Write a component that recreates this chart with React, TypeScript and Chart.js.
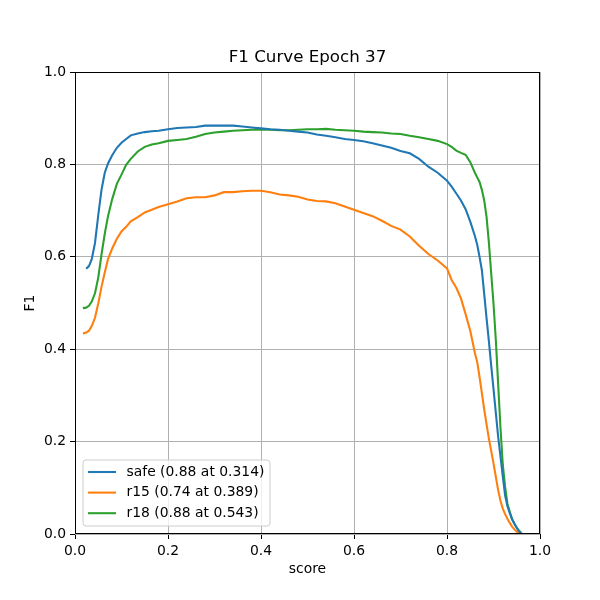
import React, { useEffect, useRef } from "react";
import { Chart, registerables } from "chart.js";

Chart.register(...registerables);

const scores = [
  0.017, 0.024, 0.03, 0.036, 0.043, 0.05, 0.057, 0.064, 0.071, 0.08, 0.09, 0.1, 0.11, 0.12, 0.135, 0.15,
  0.165, 0.18, 0.2, 0.22, 0.24, 0.26, 0.28, 0.3, 0.32, 0.34, 0.36, 0.38, 0.4, 0.42, 0.44, 0.46, 0.48, 0.5,
  0.52, 0.54, 0.56, 0.58, 0.6, 0.62, 0.64, 0.66, 0.68, 0.7, 0.72, 0.74, 0.76, 0.78, 0.8, 0.81, 0.82, 0.83,
  0.84, 0.85, 0.86, 0.865, 0.87, 0.875, 0.88, 0.885, 0.89, 0.895, 0.9, 0.905, 0.91, 0.915, 0.92, 0.925,
  0.93, 0.935, 0.94, 0.945, 0.95, 0.955, 0.96,
];

const safeF1 = [
  null, 0.574, 0.58, 0.595, 0.63, 0.69, 0.745, 0.782, 0.802, 0.82, 0.836, 0.847, 0.855, 0.863, 0.867, 0.87,
  0.872, 0.873, 0.876, 0.879, 0.88, 0.881, 0.884, 0.884, 0.884, 0.884, 0.882, 0.88, 0.878, 0.876, 0.875, 0.873, 0.871, 0.869,
  0.865, 0.862, 0.859, 0.855, 0.853, 0.85, 0.846, 0.841, 0.836, 0.829, 0.824, 0.812, 0.795, 0.782, 0.765, 0.752, 0.737, 0.722,
  0.703, 0.676, 0.645, 0.626, 0.6, 0.571, 0.52, 0.468, 0.418, 0.365, 0.314, 0.262, 0.211, 0.168, 0.125, 0.083,
  0.06, 0.045, 0.032, 0.022, 0.013, 0.006, 0.0,
];

const r15F1 = [
  0.434, 0.436, 0.44, 0.45, 0.468, 0.499, 0.535, 0.566, 0.595, 0.618, 0.639, 0.655, 0.665, 0.677, 0.686, 0.696,
  0.702, 0.708, 0.714, 0.72, 0.727, 0.729, 0.729, 0.733, 0.74, 0.74, 0.742, 0.743, 0.743, 0.74, 0.735, 0.733, 0.73, 0.724,
  0.721, 0.72, 0.716, 0.709, 0.702, 0.695, 0.688, 0.678, 0.667, 0.659, 0.644, 0.624, 0.606, 0.592, 0.575, 0.55, 0.533, 0.51,
  0.476, 0.44, 0.392, 0.372, 0.34, 0.305, 0.27, 0.238, 0.207, 0.18, 0.153, 0.124, 0.095, 0.072, 0.055, 0.043,
  0.033, 0.024, 0.016, 0.01, 0.005, 0.002, 0.0,
];

const r18F1 = [
  0.489, 0.49, 0.494, 0.503, 0.521, 0.555, 0.605, 0.65, 0.688, 0.725, 0.758, 0.778, 0.799, 0.812, 0.828, 0.838,
  0.843, 0.846, 0.851, 0.853, 0.855, 0.86, 0.866, 0.869, 0.871, 0.873, 0.874, 0.875, 0.875, 0.875, 0.874, 0.874, 0.875, 0.876,
  0.876, 0.877, 0.875, 0.874, 0.873, 0.871, 0.87, 0.869, 0.867, 0.866, 0.862, 0.859, 0.855, 0.851, 0.844, 0.838, 0.83, 0.825,
  0.821, 0.805, 0.782, 0.772, 0.762, 0.745, 0.722, 0.687, 0.632, 0.565, 0.499, 0.42, 0.325, 0.23, 0.15, 0.102,
  0.065, 0.048, 0.032, 0.022, 0.014, 0.007, 0.002,
];

const seriesNames = ["safe (0.88 at 0.314)", "r15 (0.74 at 0.389)", "r18 (0.88 at 0.543)"];
const seriesColors = ["#1f77b4", "#ff7f0e", "#2ca02c"];
const seriesValues = [safeF1, r15F1, r18F1];
const axisTicks = [0, 0.2, 0.4, 0.6, 0.8, 1.0];

const FONT = "'DejaVu Sans', sans-serif";

const framePlugin = {
  id: "frameAndLegend",
  afterLayout(chart: any) {
    const tb = chart.titleBlock;
    if (tb) {
      tb.left = chart.chartArea.left;
      tb.right = chart.chartArea.right;
      tb.width = tb.right - tb.left;
    }
  },
  afterDatasetsDraw(chart: any) {
    const { ctx, chartArea } = chart;
    ctx.save();
    ctx.strokeStyle = "#000";
    ctx.lineWidth = 1;
    ctx.strokeRect(
      Math.round(chartArea.left) + 0.5,
      Math.round(chartArea.top) + 0.5,
      Math.round(chartArea.right - chartArea.left) - 1,
      Math.round(chartArea.bottom - chartArea.top) - 1
    );
    // legend box
    const bx = chartArea.left + 8;
    const by = chartArea.bottom - 74;
    const bw = 187;
    const bh = 66;
    const r = 3;
    ctx.beginPath();
    ctx.moveTo(bx + r, by);
    ctx.lineTo(bx + bw - r, by);
    ctx.quadraticCurveTo(bx + bw, by, bx + bw, by + r);
    ctx.lineTo(bx + bw, by + bh - r);
    ctx.quadraticCurveTo(bx + bw, by + bh, bx + bw - r, by + bh);
    ctx.lineTo(bx + r, by + bh);
    ctx.quadraticCurveTo(bx, by + bh, bx, by + bh - r);
    ctx.lineTo(bx, by + r);
    ctx.quadraticCurveTo(bx, by, bx + r, by);
    ctx.closePath();
    ctx.fillStyle = "rgba(255,255,255,0.8)";
    ctx.fill();
    ctx.strokeStyle = "#cccccc";
    ctx.lineWidth = 1;
    ctx.stroke();
    ctx.font = `13.9px ${FONT}`;
    ctx.textBaseline = "middle";
    ctx.textAlign = "left";
    seriesNames.forEach((name, i) => {
      const yy = by + 12 + i * 20.6;
      ctx.strokeStyle = seriesColors[i];
      ctx.lineWidth = 2.08;
      ctx.beginPath();
      ctx.moveTo(bx + 5, yy);
      ctx.lineTo(bx + 33, yy);
      ctx.stroke();
      ctx.fillStyle = "#000";
      ctx.fillText(name, bx + 43.5, yy);
    });
    ctx.restore();
  },
};

export default function App() {
  const ref = useRef<HTMLCanvasElement | null>(null);

  useEffect(() => {
    if (!ref.current) return;
    const datasets = seriesNames.map((name, i) => ({
      label: name,
      data: scores
        .map((s, j) => ({ x: s, y: seriesValues[i][j] }))
        .filter((p) => p.y !== null),
      borderColor: seriesColors[i],
      backgroundColor: seriesColors[i],
      borderWidth: 2.08,
      pointRadius: 0,
      tension: 0,
      fill: false,
    }));

    const tickOpts = {
      color: "#000",
      font: { family: FONT, size: 13.9 },
      padding: 4,
      callback: (v: any) => Number(v).toFixed(1),
    };

    const chart = new Chart(ref.current, {
      type: "line",
      data: { datasets },
      plugins: [framePlugin],
      options: {
        animation: false,
        responsive: false,
        layout: { padding: { left: 0, right: 60, top: 0, bottom: 0 } },
        plugins: {
          legend: { display: false },
          tooltip: { enabled: false },
          title: {
            display: true,
            text: "F1 Curve Epoch 37",
            color: "#000",
            font: { family: FONT, size: 16.7, weight: "normal" },
            padding: { top: 48, bottom: 4 },
          },
        },
        scales: {
          x: {
            type: "linear",
            min: 0,
            max: 1,
            afterBuildTicks: (scale: any) => {
              scale.ticks = axisTicks.map((v) => ({ value: v }));
            },
            afterFit: (scale: any) => {
              scale.height = 66;
            },
            ticks: { ...tickOpts, maxRotation: 0 },
            grid: { color: "#b0b0b0", lineWidth: 1, tickColor: "#000", tickLength: 5 },
            border: { display: false },
            title: {
              display: true,
              text: "score",
              color: "#000",
              font: { family: FONT, size: 13.9 },
              padding: { top: 0, bottom: 22.5 },
            },
          },
          y: {
            type: "linear",
            min: 0,
            max: 1,
            afterBuildTicks: (scale: any) => {
              scale.ticks = axisTicks.map((v) => ({ value: v }));
            },
            afterFit: (scale: any) => {
              scale.width = 75;
            },
            ticks: tickOpts,
            grid: { color: "#b0b0b0", lineWidth: 1, tickColor: "#000", tickLength: 5 },
            border: { display: false },
            title: {
              display: true,
              text: "F1",
              color: "#000",
              font: { family: FONT, size: 13.9 },
              padding: { top: 22, bottom: 0 },
            },
          },
        },
      },
    } as any);
    return () => chart.destroy();
  }, []);

  return (
    <div style={{ position: "absolute", left: 0, top: 0, width: 600, height: 600, background: "#fff" }}>
      <canvas ref={ref} width={600} height={600} />
    </div>
  );
}
